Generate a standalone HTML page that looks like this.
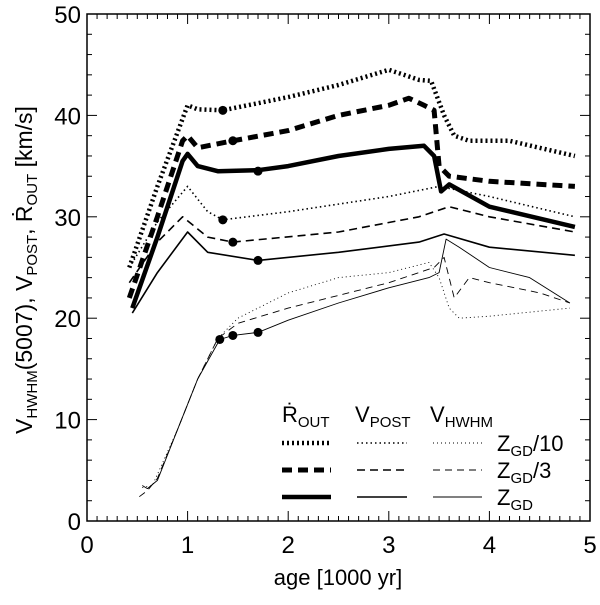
<!DOCTYPE html>
<html><head><meta charset="utf-8"><style>
body{margin:0;background:#fff}
svg{font-family:"Liberation Sans",sans-serif}
</style></head><body>
<svg id="c" width="600" height="600" viewBox="0 0 600 600" xmlns="http://www.w3.org/2000/svg"></svg>
<script>
const xTicks=[0,1,2,3,4,5];
const yTicks=[0,10,20,30,40,50];
const routZ10=[[0.42,25],[0.7,33],[1.0,41],[1.1,40.6],[1.35,40.5],[2.0,41.8],[2.5,43],[3.0,44.5],[3.15,44],[3.3,43.5],[3.42,43.4],[3.55,40],[3.65,38],[3.8,37.5],[4.2,37.5],[4.85,36]];
const routZ3=[[0.42,22],[0.7,30],[0.95,37.5],[1.0,38],[1.1,36.8],[1.3,37.2],[1.45,37.5],[2.0,38.5],[2.5,40],[3.0,41],[3.2,41.7],[3.35,41],[3.45,40.5],[3.5,35],[3.6,34],[4.0,33.5],[4.85,33]];
const routZ=[[0.45,21],[0.7,28],[0.95,35.5],[1.0,36.2],[1.1,35],[1.3,34.5],[1.7,34.6],[2.0,35],[2.5,36],[3.0,36.7],[3.35,37],[3.45,36],[3.52,32.5],[3.6,33.2],[4.0,31],[4.85,29]];
const postZ10=[[0.42,25],[0.7,29.5],[1.0,33],[1.2,30.5],[1.35,29.7],[2.0,30.5],[3.0,32],[3.5,33],[4.0,32],[4.85,30]];
const postZ3=[[0.42,23.5],[0.7,27.5],[0.95,30],[1.2,28],[1.45,27.5],[2.5,28.5],[3.3,30],[3.6,31],[4.0,30],[4.85,28.5]];
const postZ=[[0.45,20.5],[0.7,24.5],[1.0,28.5],[1.2,26.5],[1.7,25.7],[2.5,26.5],[3.3,27.5],[3.55,28.3],[4.0,27],[4.85,26.2]];
const hwZ=[[0.55,3.5],[0.6,3.2],[0.7,4],[0.9,9],[1.1,14],[1.32,17.9],[1.45,18.3],[1.7,18.6],[2.0,19.8],[2.5,21.5],[3.0,23],[3.4,24],[3.5,24.5],[3.57,27.8],[3.7,27],[4.0,25],[4.4,24],[4.8,21.5]];
const hwZ3=[[0.52,2.4],[0.6,3],[0.7,4.2],[0.9,9],[1.1,14],[1.3,18],[1.5,19.5],[2.0,21],[3.0,23.5],[3.45,25],[3.55,26],[3.65,22],[3.8,24],[4.0,23.5],[4.5,22.5],[4.8,21.5]];
const hwZ10=[[0.55,3.3],[0.65,3.5],[0.9,9],[1.1,14],[1.3,18],[1.5,20],[2.0,22.5],[2.5,24],[3.0,24.5],[3.4,25.5],[3.5,24],[3.6,21],[3.7,20],[4.0,20.2],[4.8,21]];
const dots=[[1.35,40.5],[1.45,37.5],[1.7,34.5],[1.35,29.7],[1.45,27.5],[1.7,25.7],[1.32,17.9],[1.45,18.3],[1.7,18.6]];
const X0=87,X1=590,Y0=521,Y1=14;
const sx=v=>X0+(X1-X0)*v/5, sy=v=>Y0-(Y0-Y1)*v/50;
const svg=document.getElementById('c');const NS='http://www.w3.org/2000/svg';
function mk(t,a,p){const e=document.createElementNS(NS,t);for(const k in a)e.setAttribute(k,a[k]);(p||svg).appendChild(e);return e;}
let e=mk('rect',{x:X0,y:Y1,width:X1-X0,height:Y0-Y1,fill:'none',stroke:'#000','stroke-width':1.5});


for(let i=0;i<=50;i++){const v=i*0.1,x=sx(v),L=i%10==0?10:5;
 mk('line',{x1:x,x2:x,y1:Y0,y2:Y0-L,stroke:'#000'});mk('line',{x1:x,x2:x,y1:Y1,y2:Y1+L,stroke:'#000'});}
for(let i=0;i<=25;i++){const v=i*2,y=sy(v),L=i%5==0?10:5;
 mk('line',{x1:X0,x2:X0+L,y1:y,y2:y,stroke:'#000'});mk('line',{x1:X1,x2:X1-L,y1:y,y2:y,stroke:'#000'});}
xTicks.forEach(v=>{const t=mk('text',{x:sx(v),y:Y0+32,'font-size':24,'text-anchor':'middle'});t.textContent=v;

});
yTicks.forEach(v=>{const t=mk('text',{x:X0-6,y:sy(v)+9,'font-size':24,'text-anchor':'end'});t.textContent=v;

});
let t=mk('text',{x:338,y:585,'font-size':22,'text-anchor':'middle'});t.textContent='age [1000 yr]';


t=mk('text',{transform:'translate(32,270) rotate(-90)','font-size':23,'text-anchor':'middle'});
t.innerHTML='V<tspan font-size="15" dy="5">HWHM</tspan><tspan dy="-5">(5007), V</tspan><tspan font-size="15" dy="5">POST</tspan><tspan dy="-5">, Ṙ</tspan><tspan font-size="15" dy="5">OUT</tspan><tspan dy="-5"> [km/s]</tspan>';


const styles={rz10:{w:4.5,d:'2 3'},rz3:{w:5,d:'10 6'},rz:{w:4.5,d:''},pz10:{w:1.6,d:'1.5 3'},pz3:{w:1.6,d:'8 5'},pz:{w:1.6,d:''},hz10:{w:0.9,d:'1 3'},hz3:{w:0.9,d:'7 5'},hz:{w:0.9,d:''}};
function line(d,s,name){const p=mk('path',{d:d.map((q,i)=>(i?'L':'M')+sx(q[0]).toFixed(1)+','+sy(q[1]).toFixed(1)).join(''),fill:'none',stroke:'#000','stroke-width':s.w,'stroke-dasharray':s.d,'stroke-linejoin':'round'});

}
line(routZ10,styles.rz10,'rout-zgd10-line');line(routZ3,styles.rz3,'rout-zgd3-line');line(routZ,styles.rz,'rout-zgd-line');
line(postZ10,styles.pz10,'vpost-zgd10-line');line(postZ3,styles.pz3,'vpost-zgd3-line');line(postZ,styles.pz,'vpost-zgd-line');
line(hwZ10,styles.hz10,'vhwhm-zgd10-line');line(hwZ3,styles.hz3,'vhwhm-zgd3-line');line(hwZ,styles.hz,'vhwhm-zgd-line');
dots.forEach(q=>{const c=mk('circle',{cx:sx(q[0]),cy:sy(q[1]),r:4.5,fill:'#000'});

});
const g=mk('g',{});
const heads=[[282,'Ṙ','OUT'],[355,'V','POST'],[430,'V','HWHM']];
heads.forEach(h=>{const tt=mk('text',{x:h[0],y:422,'font-size':22},g);tt.innerHTML=h[1]+'<tspan font-size="15" dy="5">'+h[2]+'</tspan>';

});
const rows=[[443,['rz10','pz10','hz10'],'/10'],[470,['rz3','pz3','hz3'],'/3'],[497,['rz','pz','hz'],'']];
const cols=[[282,331],[357,407],[433,482]];
rows.forEach(r=>{r[1].forEach((k,i)=>{const s=styles[k];const l=mk('line',{x1:cols[i][0],x2:cols[i][1],y1:r[0],y2:r[0],stroke:'#000','stroke-width':s.w,'stroke-dasharray':s.d},g);

});
const tt=mk('text',{x:497,y:r[0]+8,'font-size':22},g);tt.innerHTML='Z<tspan font-size="15" dy="5">GD</tspan><tspan dy="-5">'+r[2]+'</tspan>';

});
</script>
</body></html>
